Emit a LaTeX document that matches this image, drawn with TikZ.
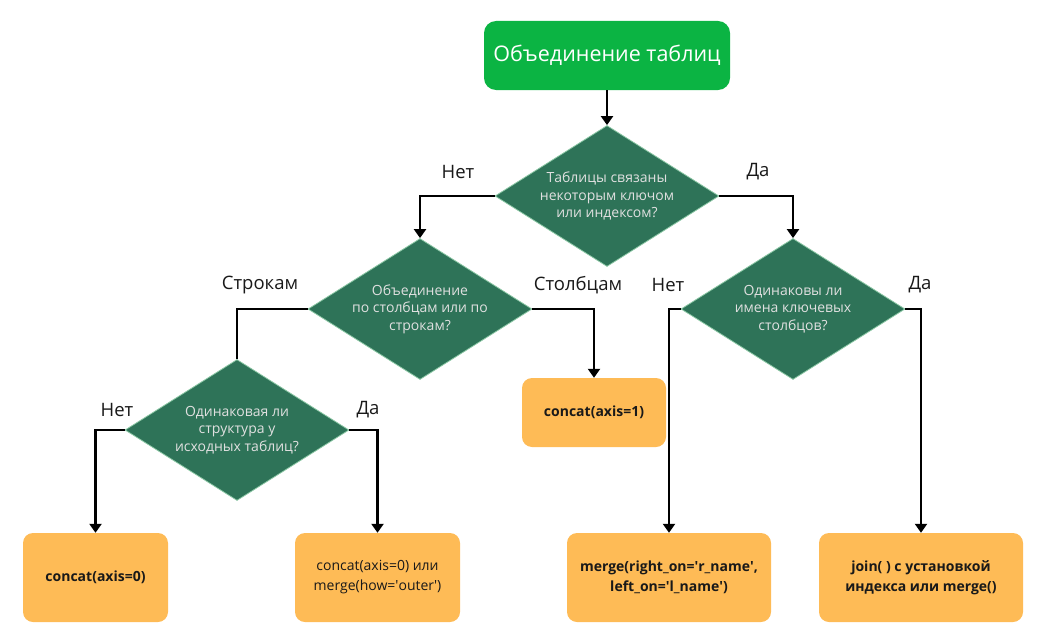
\documentclass[tikz,border=0pt]{standalone}
\usepackage{fontspec}
\setmainfont{Open Sans}
\usetikzlibrary{positioning, arrows.meta, shapes.geometric}
\definecolor{startgreen}{RGB}{11,180,67}
\definecolor{questgreen}{RGB}{46,115,88}
\definecolor{questedge}{RGB}{140,200,165}
\definecolor{leaforange}{RGB}{254,187,86}
\tikzset{
start/.style = {rectangle, rounded corners = 12pt, fill = startgreen,
   text = white, minimum width = 246pt, minimum height = 69pt,
   font = \fontsize{21.5}{25}\selectfont},
question/.style = {diamond, aspect = 1.58, fill = questgreen, draw = questedge,
   line width = .8pt, minimum width = 224pt, minimum height = 141pt,
   inner sep = 0pt, align = center, text = white!88!black,
   font = \fontsize{14}{17.5}\selectfont},
leaf/.style = {rectangle, rounded corners = 10pt, fill = leaforange,
   minimum height = 89pt, align = center, text = black!90,
   font = \bfseries\fontsize{14}{20}\selectfont},
answer/.style = {font = \fontsize{18.5}{21}\selectfont, text = black!90},
flow/.style = {-{Triangle[width = 12pt, length = 9pt]}, line width = 2.2pt},
link/.style = {line width = 2.2pt}
}

\begin{document}
\begin{tikzpicture}[x = 1pt, y = -1pt]
\useasboundingbox (0,0) rectangle (1046,634);

%% Start
\node [start] (merge) at (607,55.5) {Объединение таблиц};

%% Questions
\node [question] (askkey) at (607,196) {Таблицы связаны\\некоторым ключом\\или индексом?};
\node [question] (askaxis) at (420,309) {Объединение\\по столбцам или по\\строкам?};
\node [question] (asknames) at (793,309) {Одинаковы ли\\имена ключевых\\столбцов?};
\node [question] (askstruct) at (237,430) {Одинаковая ли\\структура у\\исходных таблиц?};

%% Results
\node [leaf, minimum width = 145pt] (concat0) at (95.5,577.5) {concat(axis=0)};
\node [leaf, minimum width = 165pt, font = \mdseries\fontsize{14}{20}\selectfont]
   (concatmerge) at (377.5,577.5) {concat(axis=0) или\\merge(how=\textquotesingle outer\textquotesingle)};
\node [leaf, minimum width = 144pt, minimum height = 69pt] (concat1) at (594,412.5) {concat(axis=1)};
\node [leaf, minimum width = 204pt] (mergenames) at (669,577.5)
   {merge(right\_on=\textquotesingle r\_name\textquotesingle,\\left\_on=\textquotesingle l\_name\textquotesingle)};
\node [leaf, minimum width = 204pt] (joinindex) at (921,577.5) {join( ) с установкой\\индекса или merge()};

%% Connectors
\draw [flow] (merge) -- (askkey.north);
\draw [flow] (askkey.west) -| (askaxis.north);
\draw [flow] (askkey.east) -| (asknames.north);
\draw [link] (askaxis.west) -| (askstruct.north);
\draw [flow] (askaxis.east) -| (concat1.north);
\draw [flow] (askstruct.west) -| (concat0.north);
\draw [flow] (askstruct.east) -| (concatmerge.north);
\draw [flow] (asknames.west) -| (mergenames.north);
\draw [flow] (asknames.east) -| (joinindex.north);

%% Answers
\node [answer] (no1) at (458,172) {Нет};
\node [answer] (yes1) at (758,172) {Да};
\node [answer] (rows) at (260,285) {Строкам};
\node [answer] (cols) at (578,285) {Столбцам};
\node [answer] (no2) at (668,285) {Нет};
\node [answer] (yes2) at (920,285) {Да};
\node [answer] (no3) at (117,410) {Нет};
\node [answer] (yes3) at (368,410) {Да};

\end{tikzpicture}
\end{document}
